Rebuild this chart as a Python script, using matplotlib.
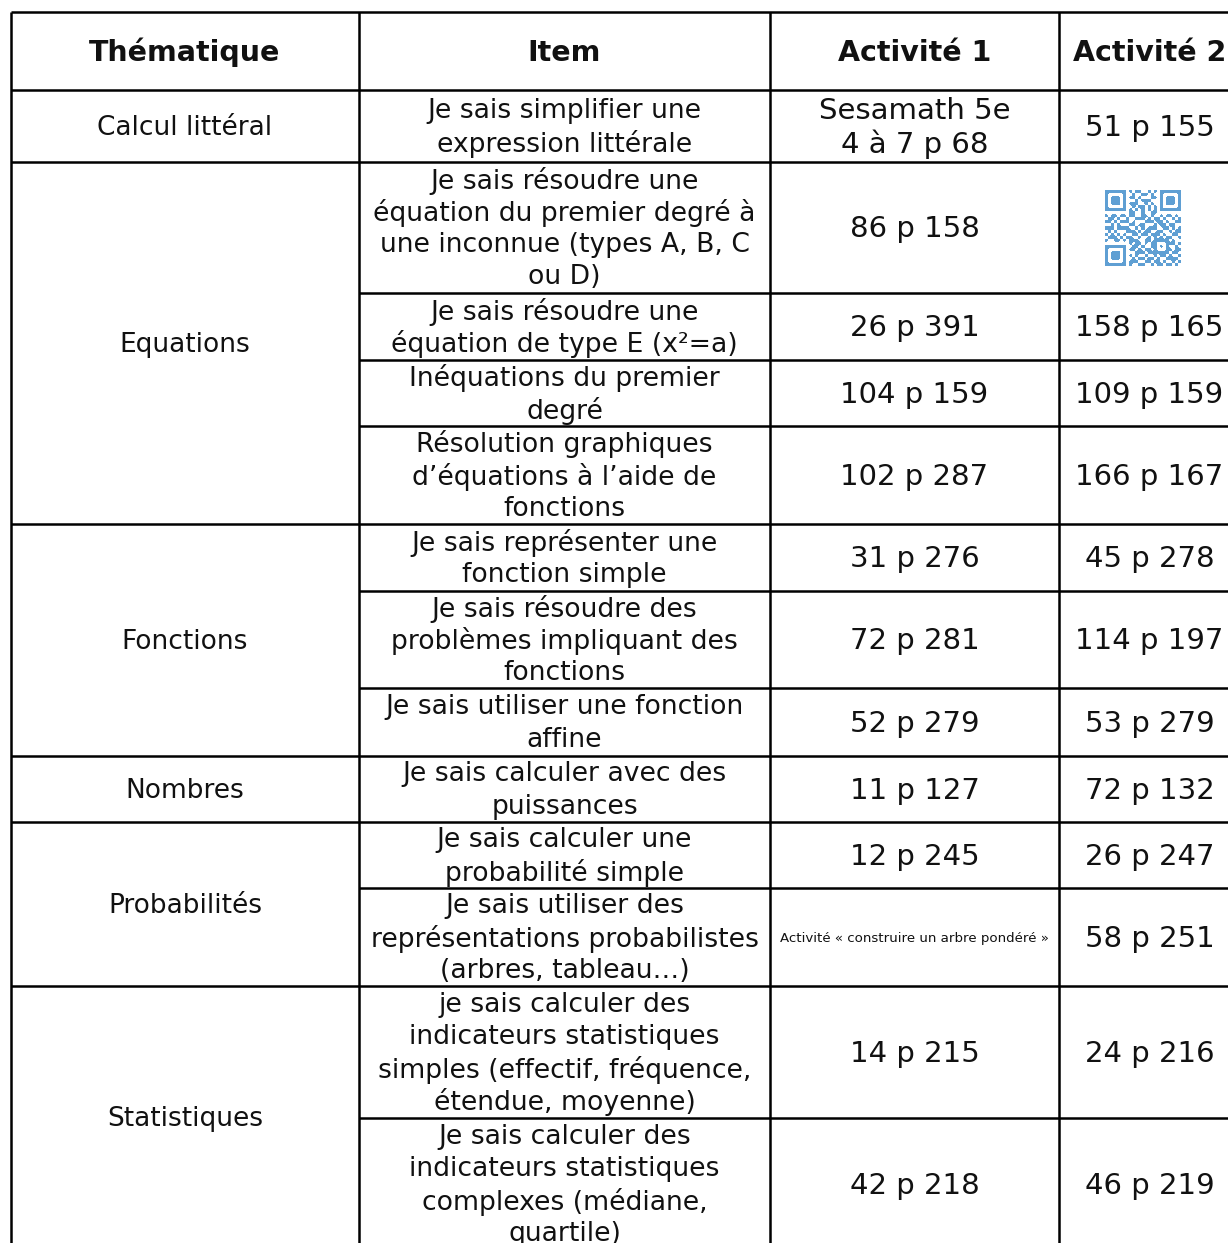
import matplotlib
matplotlib.use("Agg")
import matplotlib.pyplot as plt
from matplotlib.colors import ListedColormap
import numpy as np

# ---------------- data ----------------
headers = ["Thématique", "Item", "Activité 1", "Activité 2"]

themes = ["Calcul littéral", "Equations", "Fonctions", "Nombres", "Probabilités", "Statistiques"]
theme_row_counts = [1, 4, 3, 1, 2, 2]

items = [
    "Je sais simplifier une\nexpression littérale",
    "Je sais résoudre une\néquation du premier degré à\nune inconnue (types A, B, C\nou D)",
    "Je sais résoudre une\néquation de type E (x²=a)",
    "Inéquations du premier\ndegré",
    "Résolution graphiques\nd’équations à l’aide de\nfonctions",
    "Je sais représenter une\nfonction simple",
    "Je sais résoudre des\nproblèmes impliquant des\nfonctions",
    "Je sais utiliser une fonction\naffine",
    "Je sais calculer avec des\npuissances",
    "Je sais calculer une\nprobabilité simple",
    "Je sais utiliser des\nreprésentations probabilistes\n(arbres, tableau…)",
    "je sais calculer des\nindicateurs statistiques\nsimples (effectif, fréquence,\nétendue, moyenne)",
    "Je sais calculer des\nindicateurs statistiques\ncomplexes (médiane,\nquartile)",
]

activite1 = [
    "Sesamath 5e\n4 à 7 p 68", "86 p 158", "26 p 391", "104 p 159", "102 p 287",
    "31 p 276", "72 p 281", "52 p 279", "11 p 127", "12 p 245",
    "Activité « construire un arbre pondéré »", "14 p 215", "42 p 218",
]
activite1_small = [False] * 10 + [True] + [False] * 2

activite2 = [
    "51 p 155", None, "158 p 165", "109 p 159", "166 p 167",
    "45 p 278", "114 p 197", "53 p 279", "72 p 132", "26 p 247",
    "58 p 251", "24 p 216", "46 p 219",
]
qr_row = 1

# QR code picture (decorative) as module strings
qr_modules = [
    "1111111" + "0" + "101100101" + "0" + "1111111",
    "1000001" + "0" + "010011010" + "0" + "1000001",
    "1011101" + "0" + "110100011" + "0" + "1011101",
    "1011101" + "0" + "001011100" + "0" + "1011101",
    "1011101" + "0" + "111001010" + "0" + "1011101",
    "1000001" + "0" + "010110101" + "0" + "1000001",
    "1111111" + "0" + "101010101" + "0" + "1111111",
    "00000000" + "110010011" + "00000000",
    "1011011011001101001011010",
    "0110100100111010110100101",
    "1101011101000111011010011",
    "0010100011011000101101100",
    "1110111100101011100110101",
    "0101000111010110011001011",
    "1010101001101101110100110",
    "0111010110010010101011001",
    "1001101011100110" + "11111" + "0100",
    "00000000" + "10110101" + "10001" + "1101",
    "1111111" + "0" + "01101001" + "10101" + "0010",
    "1000001" + "0" + "11010110" + "10001" + "1011",
    "1011101" + "0" + "00111011" + "11111" + "0110",
    "1011101" + "0" + "10100100" + "10110" + "1001",
    "1011101" + "0" + "01011011" + "01001" + "1110",
    "1000001" + "0" + "11100110" + "11010" + "0101",
    "1111111" + "0" + "10011001" + "01101" + "1010",
]

# ---------------- layout (pixels) ----------------
W, H = 1228, 1243
col_edges = [11, 359, 770, 1059, 1241]
top = 12
header_bottom = 90
row_edges = [90, 162, 293, 360, 426, 524, 591, 688, 756, 822, 888, 986, 1118, 1250]
line_step = 32.3
y_shift = 1.5
lw = 1.8

fig = plt.figure(figsize=(W / 100, H / 100), dpi=100)
ax = fig.add_axes([0, 0, 1, 1])
ax.set_xlim(0, W)
ax.set_ylim(H, 0)
ax.axis("off")

plt.rcParams["font.family"] = ["DejaVu Sans"]


def put_lines(x, yc, text, size, weight="normal", step=line_step):
    lines = text.split("\n")
    n = len(lines)
    for i, ln in enumerate(lines):
        y = yc + y_shift + (i - (n - 1) / 2) * step
        ax.text(x, y, ln, ha="center", va="center", fontsize=size,
                fontweight=weight, color="#111111")


col_centers = [(col_edges[i] + col_edges[i + 1]) / 2 for i in range(4)]

# header
ax.plot([col_edges[0], W + 20], [top, top], color="black", lw=lw, solid_capstyle="butt")
for j, h in enumerate(headers):
    put_lines(col_centers[j], (top + header_bottom) / 2, h, 20.5, weight="bold")

# group boundaries
group_starts = set()
idx = 0
for c in theme_row_counts:
    group_starts.add(idx)
    idx += c

# horizontal lines
for r in range(len(row_edges)):
    y = row_edges[r]
    x0 = col_edges[0] if (r in group_starts or r == len(items)) else col_edges[1]
    ax.plot([x0, W + 20], [y, y], color="black", lw=lw, solid_capstyle="butt")

# vertical lines
for x in col_edges:
    ax.plot([x, x], [top, H + 20], color="black", lw=lw, solid_capstyle="butt")

# theme labels
idx = 0
for t, c in zip(themes, theme_row_counts):
    y0 = row_edges[idx]
    y1 = row_edges[idx + c]
    put_lines(col_centers[0], (y0 + y1) / 2, t, 19)
    idx += c

# rows
for i in range(len(items)):
    yc = (row_edges[i] + row_edges[i + 1]) / 2
    put_lines(col_centers[1], yc, items[i], 19.2)
    if activite1_small[i]:
        put_lines(col_centers[2], yc, activite1[i], 9.6)
    else:
        put_lines(col_centers[2], yc, activite1[i], 21, step=34)
    if activite2[i] is not None:
        put_lines(col_centers[3] - 0.5, yc, activite2[i], 21)

# QR code
qr = np.array([[int(ch) for ch in row] for row in qr_modules])
qcx = 1143
qcy = (row_edges[qr_row] + row_edges[qr_row + 1]) / 2
half = 38
ax.imshow(qr, cmap=ListedColormap(["white", "#5f9fd3"]), interpolation="bilinear",
          extent=(qcx - half, qcx + half, qcy + half, qcy - half), origin="upper",
          aspect="auto", zorder=2)
ax.set_xlim(0, W)
ax.set_ylim(H, 0)

fig.savefig("out.png", dpi=100)
